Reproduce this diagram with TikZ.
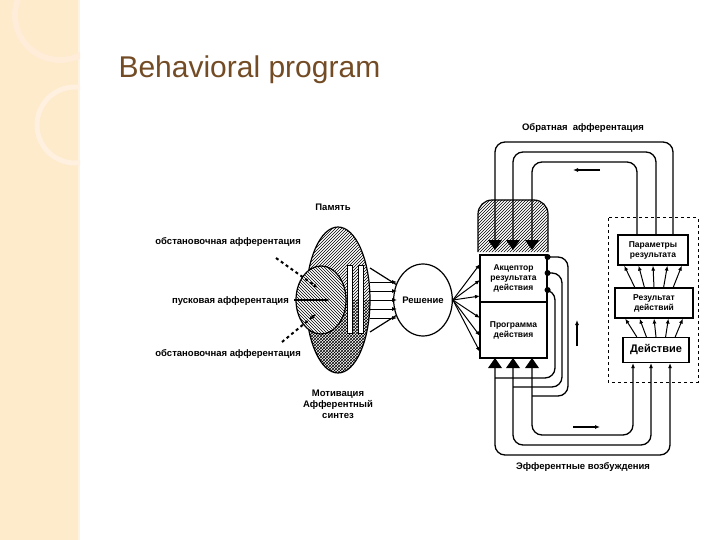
\documentclass[tikz,border=0pt]{standalone}
\usepackage{fontspec}
\setmainfont{Liberation Sans}
\usetikzlibrary{patterns, arrows.meta, shapes.geometric, calc}

\tikzset{
	lab/.style={font=\fontsize{9.5}{11}\selectfont\bfseries, inner sep=1pt},
	box/.style={draw, line width=1.2pt, fill=white, inner sep=0pt},
	wire/.style={line width=1.3pt, rounded corners=10pt},
	tip/.style={-{Latex[length=5pt,width=4pt]}},
}

\begin{document}
\begin{tikzpicture}[x=1pt,y=-1pt]
	\useasboundingbox (0,0) rectangle (720,540);
	% slide background
	\fill[yellow!15!orange!10] (0,0) rectangle (720,540);
	\fill[yellow!20!orange!18] (0,0) rectangle (78,540);
	\fill[white] (80,0) rectangle (720,540);
	\begin{scope}
		\clip (0,0) rectangle (80,540);
		\draw[orange!15, line width=6pt] (60,15) circle (45);
		\draw[orange!12, line width=5pt] (75,125) circle (38);
	\end{scope}
	\node[anchor=west, text=brown!60!black, font=\fontsize{30}{34}\selectfont] (title) at (115,70) {Behavioral program};

	% afferent synthesis
	\begin{scope}
		\clip (270,227) rectangle (400,300);
		\draw[line width=1.2pt, pattern=north east lines] (338,300) ellipse (32 and 73);
	\end{scope}
	\begin{scope}
		\clip (270,300) rectangle (400,380);
		\draw[line width=1.2pt, pattern=crosshatch] (338,300) ellipse (32 and 73);
	\end{scope}
	\node[draw, line width=1.2pt, ellipse, minimum width=50, minimum height=68, fill=white, postaction={pattern=north west lines}] (trig) at (321,300) {};
	\fill[white] (347,265) rectangle (352,333) (358,265) rectangle (363,333);
	\draw[line width=1pt] (347,265) rectangle (352,333) (358,265) rectangle (363,333);
	\node[draw, line width=1.2pt, ellipse, minimum width=54, minimum height=72, font=\fontsize{9.5}{11}\selectfont\bfseries, inner sep=0pt] (dec) at (423,300) {Решение};
	\coordinate (s1) at (370,268);
	\coordinate (s2) at (370,332);
	\draw[line width=1.2pt] (s1) -- (dec.150) (s2) -- (dec.210);
	\foreach \y in {282,291,300,309,318}
		\draw[line width=1pt, tip] (370,\y) -- (397,\y);

	% inputs
	\coordinate (in1) at (276,258);
	\coordinate (in2) at (294,300);
	\coordinate (in3) at (282,342);
	\draw[line width=2pt, dashed, tip] (in1) -- (318,288);
	\draw[line width=2.5pt, tip] (in2) -- (330,300);
	\draw[line width=2pt, dashed, tip] (in3) -- (316,314);

	\node[lab] (mem) at (333,207) {Память};
	\node[lab, anchor=east] (env1) at (302,242) {обстановочная афферентация};
	\node[lab, anchor=east] (trg) at (290,301) {пусковая афферентация};
	\node[lab, anchor=east] (env2) at (302,354) {обстановочная афферентация};
	\node[lab, align=center] (mot) at (338,404) {Мотивация\\Афферентный\\синтез};

	% acceptor block
	\draw[line width=1.2pt, rounded corners=14pt, pattern=north east lines] (478,252) -- (478,200) -- (548,200) -- (548,252);
	\node[box, minimum width=67, minimum height=47, font=\fontsize{8.5}{10}\selectfont\bfseries, align=center] (acc) at (513.5,278.5) {Акцептор\\результата\\действия};
	\node[box, minimum width=67, minimum height=56, font=\fontsize{8.5}{10}\selectfont\bfseries, align=center] (prog) at (513.5,330) {Программа\\действия};
	\foreach \y in {264,280,296,318,336,352}
		\draw[line width=1pt, tip] (dec.east) -- (480,\y);
	\foreach \x in {495,513,532} {
		\fill (\x-7,240) -- (\x+7,240) -- (\x,250) -- cycle;
		\fill (\x-7,368) -- (\x+7,368) -- (\x,358) -- cycle;
	}

	% result side
	\draw[dashed, line width=1pt] (608,218) rectangle (698,382);
	\node[box, minimum width=70, minimum height=30, font=\fontsize{8.5}{10}\selectfont\bfseries, align=center] (par) at (653,250) {Параметры\\результата};
	\node[box, minimum width=78, minimum height=30, font=\fontsize{8.5}{10}\selectfont\bfseries, align=center] (res) at (654,303) {Результат\\действий};
	\node[box, minimum width=66, minimum height=25, font=\fontsize{11}{13}\selectfont\bfseries] (act) at (656,350) {Действие};
	\foreach \d in {-24,-12,0,12,24} {
		\draw[line width=1pt, tip] ($(res.north)+(\d*0.8,0)$) -- ($(par.south)+(\d*1.2,0)$);
		\draw[line width=1pt, tip] ($(act.north)+(\d*0.8,0)$) -- ($(res.south)+(\d*1.2,0)$);
	}

	% feedback loops
	\draw[wire, -{Latex[length=6pt,width=5pt]}] (par.north -| 673,0) -- (673,142) -- (495,142) -- (495,248);
	\draw[wire, -{Latex[length=6pt,width=5pt]}] (par.north -| 656,0) -- (656,152) -- (513,152) -- (513,248);
	\draw[wire, -{Latex[length=6pt,width=5pt]}] (par.north -| 637,0) -- (637,162) -- (532,162) -- (532,248);
	% efferent loops
	\draw[wire, tip] (495,358) -- (495,455) -- (670,455) -- (act.south -| 670,0);
	\draw[wire, tip] (513,358) -- (513,445) -- (651,445) -- (act.south -| 651,0);
	\draw[wire, tip] (532,358) -- (532,435) -- (633,435) -- (act.south -| 633,0);
	% collateral loops
	\draw[wire] (acc.east |- 0,257) -- (568,257) -- (568,396) -- (532,396);
	\draw[wire] (acc.east |- 0,273) -- (562,273) -- (562,387) -- (513,387);
	\draw[wire] (acc.east |- 0,290) -- (555,290) -- (555,378) -- (495,378);
	\foreach \y in {257,273,290} \fill (acc.east |- 0,\y) circle (3);

	\draw[line width=1.2pt, tip] (600,170) -- (573,170);
	\draw[line width=1.2pt, tip] (577,346) -- (577,320);
	\draw[line width=1.2pt, tip] (573,427) -- (600,427);

	\node[lab] (fb) at (583,128) {Обратная \ афферентация};
	\node[lab] (eff) at (583,467) {Эфферентные возбуждения};
\end{tikzpicture}
\end{document}
